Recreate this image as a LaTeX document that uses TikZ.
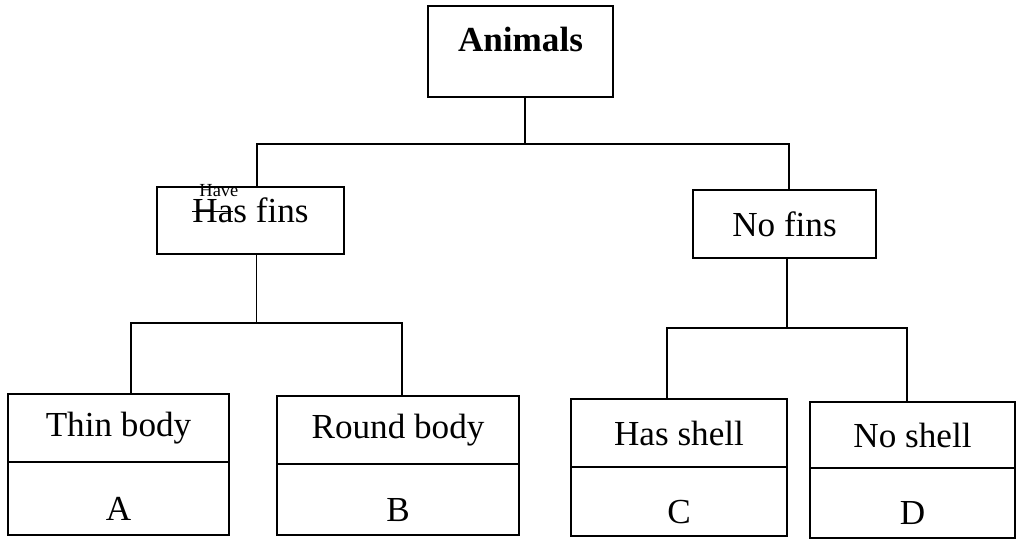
\documentclass[tikz,border=0pt]{standalone}
\usepackage{fontspec}
\setmainfont{Liberation Serif}
\usetikzlibrary{positioning}
\newcommand{\crossword}[1]{\setbox0\hbox{#1}\rlap{\rule[0.31em]{0.75\wd0}{0.8pt}}#1}
\tikzstyle{rootbox} = [rectangle, draw=black, line width=1pt,
    font=\fontsize{20}{24}\selectfont, text centered, text height=0.5cm, text depth=0.5cm]
\tikzstyle{groupbox} = [rectangle, draw=black, line width=1pt,
    font=\fontsize{20}{24}\selectfont, text centered, minimum height=1.36cm]
\tikzstyle{letterbox} = [groupbox, text height=0.87cm, text depth=0pt]
\tikzstyle{branch} = [line width=1pt]

\begin{document}
\begin{tikzpicture}
\useasboundingbox (0,0) rectangle (20.34,10.8);

% Nodes
\node (animals) [rootbox, minimum width=3.7cm, minimum height=1.82cm] at (10.41,9.77) {\bfseries Animals};
\node (hasfins) [rootbox, minimum width=3.74cm, minimum height=1.34cm, text height=0.55cm, text depth=0.45cm] at (5.01,6.39)
    {\rlap{\raisebox{0.75em}{\hspace{0.2em}\fontsize{10.5}{10.5}\selectfont Have}}\crossword{Has} fins};
\node (nofins) [groupbox, minimum width=3.66cm] at (15.69,6.32) {No fins};

\node (thin) [groupbox, minimum width=4.42cm] at (2.37,2.24) {Thin body};
\node (a) [letterbox, minimum width=4.42cm, minimum height=1.46cm, below=-1pt of thin] {A};
\node (round) [groupbox, minimum width=4.84cm] at (7.96,2.2) {Round body};
\node (b) [letterbox, minimum width=4.84cm, minimum height=1.42cm, below=-1pt of round] {B};
\node (hasshell) [groupbox, minimum width=4.32cm] at (13.58,2.14) {Has shell};
\node (c) [letterbox, minimum width=4.32cm, minimum height=1.38cm, below=-1pt of hasshell] {C};
\node (noshell) [groupbox, minimum width=4.1cm, minimum height=1.32cm] at (18.25,2.1) {No shell};
\node (d) [letterbox, minimum width=4.1cm, minimum height=1.4cm, below=-1pt of noshell] {D};

% Branches
\draw [branch] ([xshift=0.09cm]animals.south) -- ++(0,-0.92) -| ([xshift=0.13cm]hasfins.north);
\draw [branch] ([xshift=0.09cm]animals.south) -- ++(0,-0.92) -| ([xshift=0.09cm]nofins.north);
\draw [branch] ([xshift=0.12cm]hasfins.south) -- ++(0,-1.36) -| ([xshift=0.25cm]thin.north);
\draw [branch] ([xshift=0.12cm]hasfins.south) -- ++(0,-1.36) -| ([xshift=0.08cm]round.north);
\draw [branch] ([xshift=0.05cm]nofins.south) -- ++(0,-1.38) -| ([xshift=-0.24cm]hasshell.north);
\draw [branch] ([xshift=0.05cm]nofins.south) -- ++(0,-1.38) -| ([xshift=-0.11cm]noshell.north);

\end{tikzpicture}
\end{document}
